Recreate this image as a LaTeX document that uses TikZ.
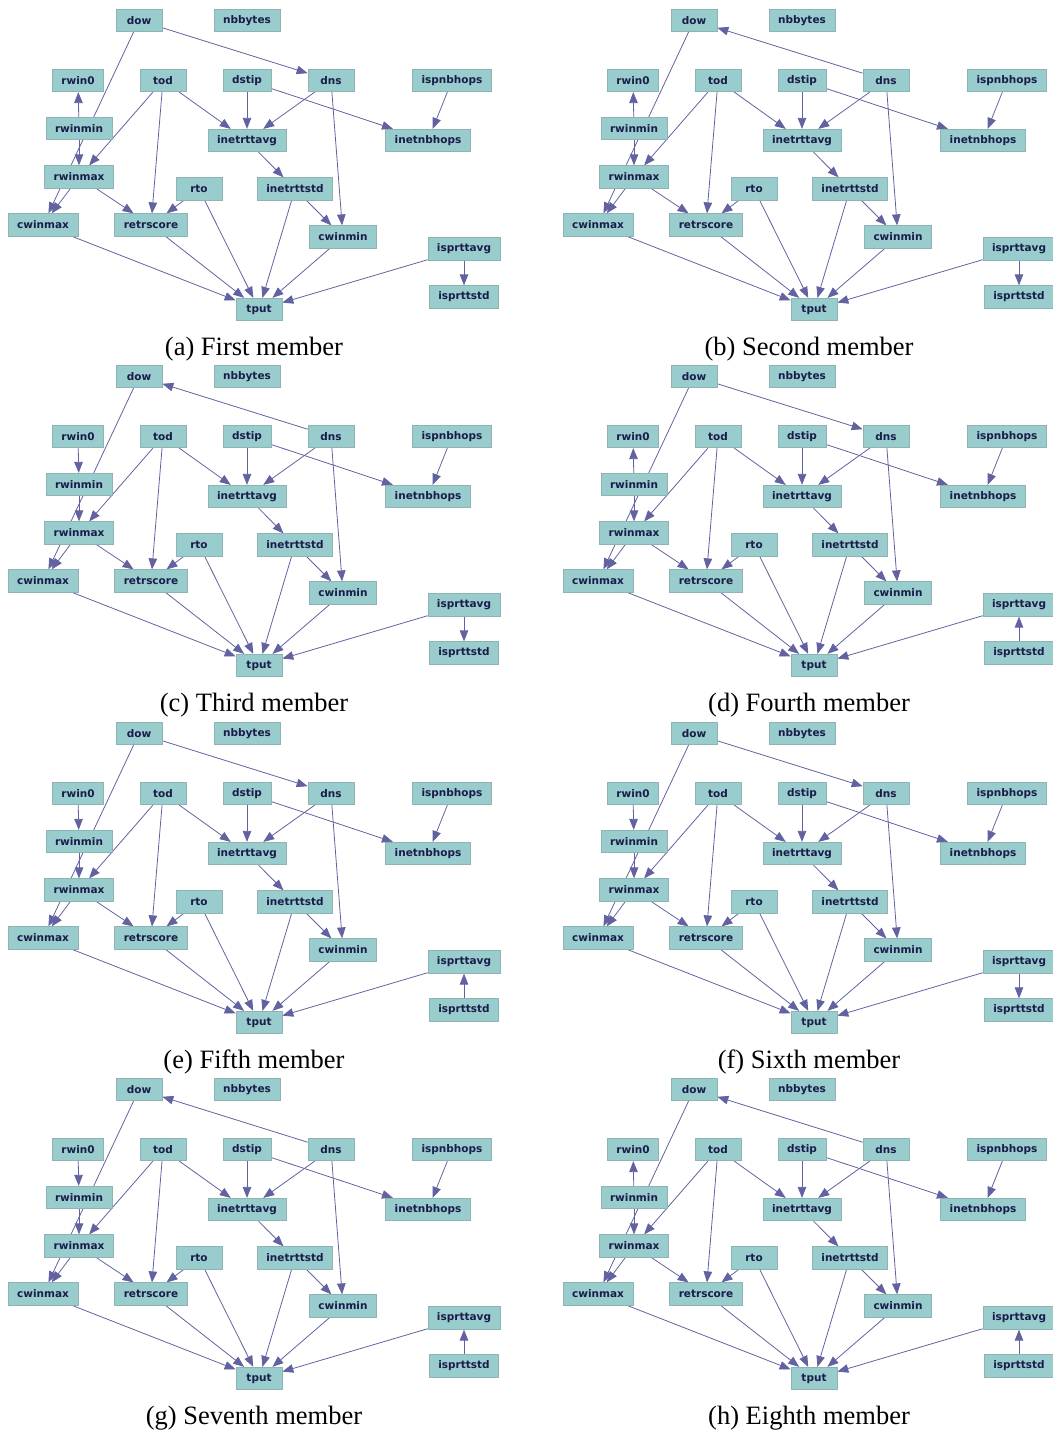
\documentclass[tikz,border=0pt]{standalone}
\usepackage{fontspec}
\setmainfont{Liberation Serif}
\newfontfamily\boxfont{DejaVu Sans}
\usepackage{tikz}
\usetikzlibrary{arrows.meta}
\definecolor{varfill}{HTML}{99CCCC}
\definecolor{vardraw}{HTML}{8FB3B3}
\definecolor{vartext}{HTML}{1A1C4A}
\definecolor{linkblue}{HTML}{6262A0}
\pgfdeclarelayer{bg}
\pgfsetlayers{bg,main}
\tikzset{
  var/.style={rectangle,fill=varfill,draw=vardraw,line width=0.7pt,text=vartext,
    font=\boxfont\bfseries\fontsize{10.5}{11}\selectfont,inner xsep=9pt,inner ysep=0pt,
    minimum width=46pt,minimum height=22.5pt},
  link/.style={draw=linkblue,line width=0.8pt},
  fwd/.style={-{Triangle[length=11pt,width=8.5pt,fill=linkblue]}},
  bwd/.style={{Triangle[length=11pt,width=8.5pt,fill=linkblue]}-},
  caption/.style={anchor=base,font=\fontsize{26.5}{30}\selectfont},
}
% #1 prefix, #2/#3 shift, #4 caption, #5 dow-dns, #6 rwin0-rwinmin, #7 isprttavg-isprttstd
\newcommand\memberpanel[7]{%
  \begin{scope}[shift={(#2,#3)}]
    \node[var] (#1dow) at (139,20.5) {dow};
    \node[var] (#1nbbytes) at (247,20.5) {nbbytes};
    \node[var] (#1rwin0) at (78,80.5) {rwin0};
    \node[var] (#1tod) at (163,80.5) {tod};
    \node[var] (#1dstip) at (247,80.5) {dstip};
    \node[var] (#1dns) at (331,80.5) {dns};
    \node[var] (#1ispnbhops) at (452,80.5) {ispnbhops};
    \node[var] (#1rwinmin) at (79,128.5) {rwinmin};
    \node[var] (#1inetrttavg) at (247,140.5) {inetrttavg};
    \node[var] (#1inetnbhops) at (428,140.5) {inetnbhops};
    \node[var] (#1rwinmax) at (79,177) {rwinmax};
    \node[var] (#1rto) at (199,189) {rto};
    \node[var] (#1inetrttstd) at (295,189) {inetrttstd};
    \node[var] (#1cwinmax) at (43,225) {cwinmax};
    \node[var] (#1retrscore) at (151,225) {retrscore};
    \node[var] (#1cwinmin) at (343,237) {cwinmin};
    \node[var] (#1isprttavg) at (464,249) {isprttavg};
    \node[var] (#1isprttstd) at (464,297) {isprttstd};
    \node[var] (#1tput) at (259,309.5) {tput};
    \node[caption] (#1cap) at (254,355) {#4};
    \begin{pgfonlayer}{bg}
      \draw[link,#5] (#1dow) -- (#1dns);
      \draw[link,#6] (#1rwin0) -- (#1rwinmin);
      \draw[link,#7] (#1isprttavg) -- (#1isprttstd);
      \draw[link,fwd] (#1dow) -- (#1cwinmax);
      \draw[link,fwd] (#1rwinmin) -- (#1rwinmax);
      \draw[link,fwd] (#1rwinmax) -- (#1cwinmax);
      \draw[link,fwd] (#1rwinmax) -- (#1retrscore);
      \draw[link,fwd] (#1tod) -- (#1rwinmax);
      \draw[link,fwd] (#1tod) -- (#1retrscore);
      \draw[link,fwd] (#1tod) -- (#1inetrttavg);
      \draw[link,fwd] (#1dstip) -- (#1inetrttavg);
      \draw[link,fwd] (#1dstip) -- (#1inetnbhops);
      \draw[link,fwd] (#1dns) -- (#1inetrttavg);
      \draw[link,fwd] (#1dns) -- (#1cwinmin);
      \draw[link,fwd] (#1ispnbhops) -- (#1inetnbhops);
      \draw[link,fwd] (#1inetrttavg) -- (#1inetrttstd);
      \draw[link,fwd] (#1inetrttstd) -- (#1cwinmin);
      \draw[link,fwd] (#1rto) -- (#1retrscore);
      \draw[link,fwd] (#1rto) -- (#1tput);
      \draw[link,fwd] (#1cwinmax) -- (#1tput);
      \draw[link,fwd] (#1retrscore) -- (#1tput);
      \draw[link,fwd] (#1inetrttstd) -- (#1tput);
      \draw[link,fwd] (#1cwinmin) -- (#1tput);
      \draw[link,fwd] (#1isprttavg) -- (#1tput);
    \end{pgfonlayer}
  \end{scope}}

\begin{document}
\begin{tikzpicture}[x=1pt,y=-1pt]
  \useasboundingbox (0,0) rectangle (1052,1431);
  \memberpanel{a}{0}{0}{(a) First member}{fwd}{bwd}{fwd}
  \memberpanel{b}{555}{0}{(b) Second member}{bwd}{bwd}{fwd}
  \memberpanel{c}{0}{356}{(c) Third member}{bwd}{fwd}{fwd}
  \memberpanel{d}{555}{356}{(d) Fourth member}{fwd}{bwd}{bwd}
  \memberpanel{e}{0}{713}{(e) Fifth member}{fwd}{fwd}{bwd}
  \memberpanel{f}{555}{713}{(f) Sixth member}{fwd}{fwd}{fwd}
  \memberpanel{g}{0}{1069}{(g) Seventh member}{bwd}{fwd}{bwd}
  \memberpanel{h}{555}{1069}{(h) Eighth member}{bwd}{bwd}{bwd}
\end{tikzpicture}
\end{document}
